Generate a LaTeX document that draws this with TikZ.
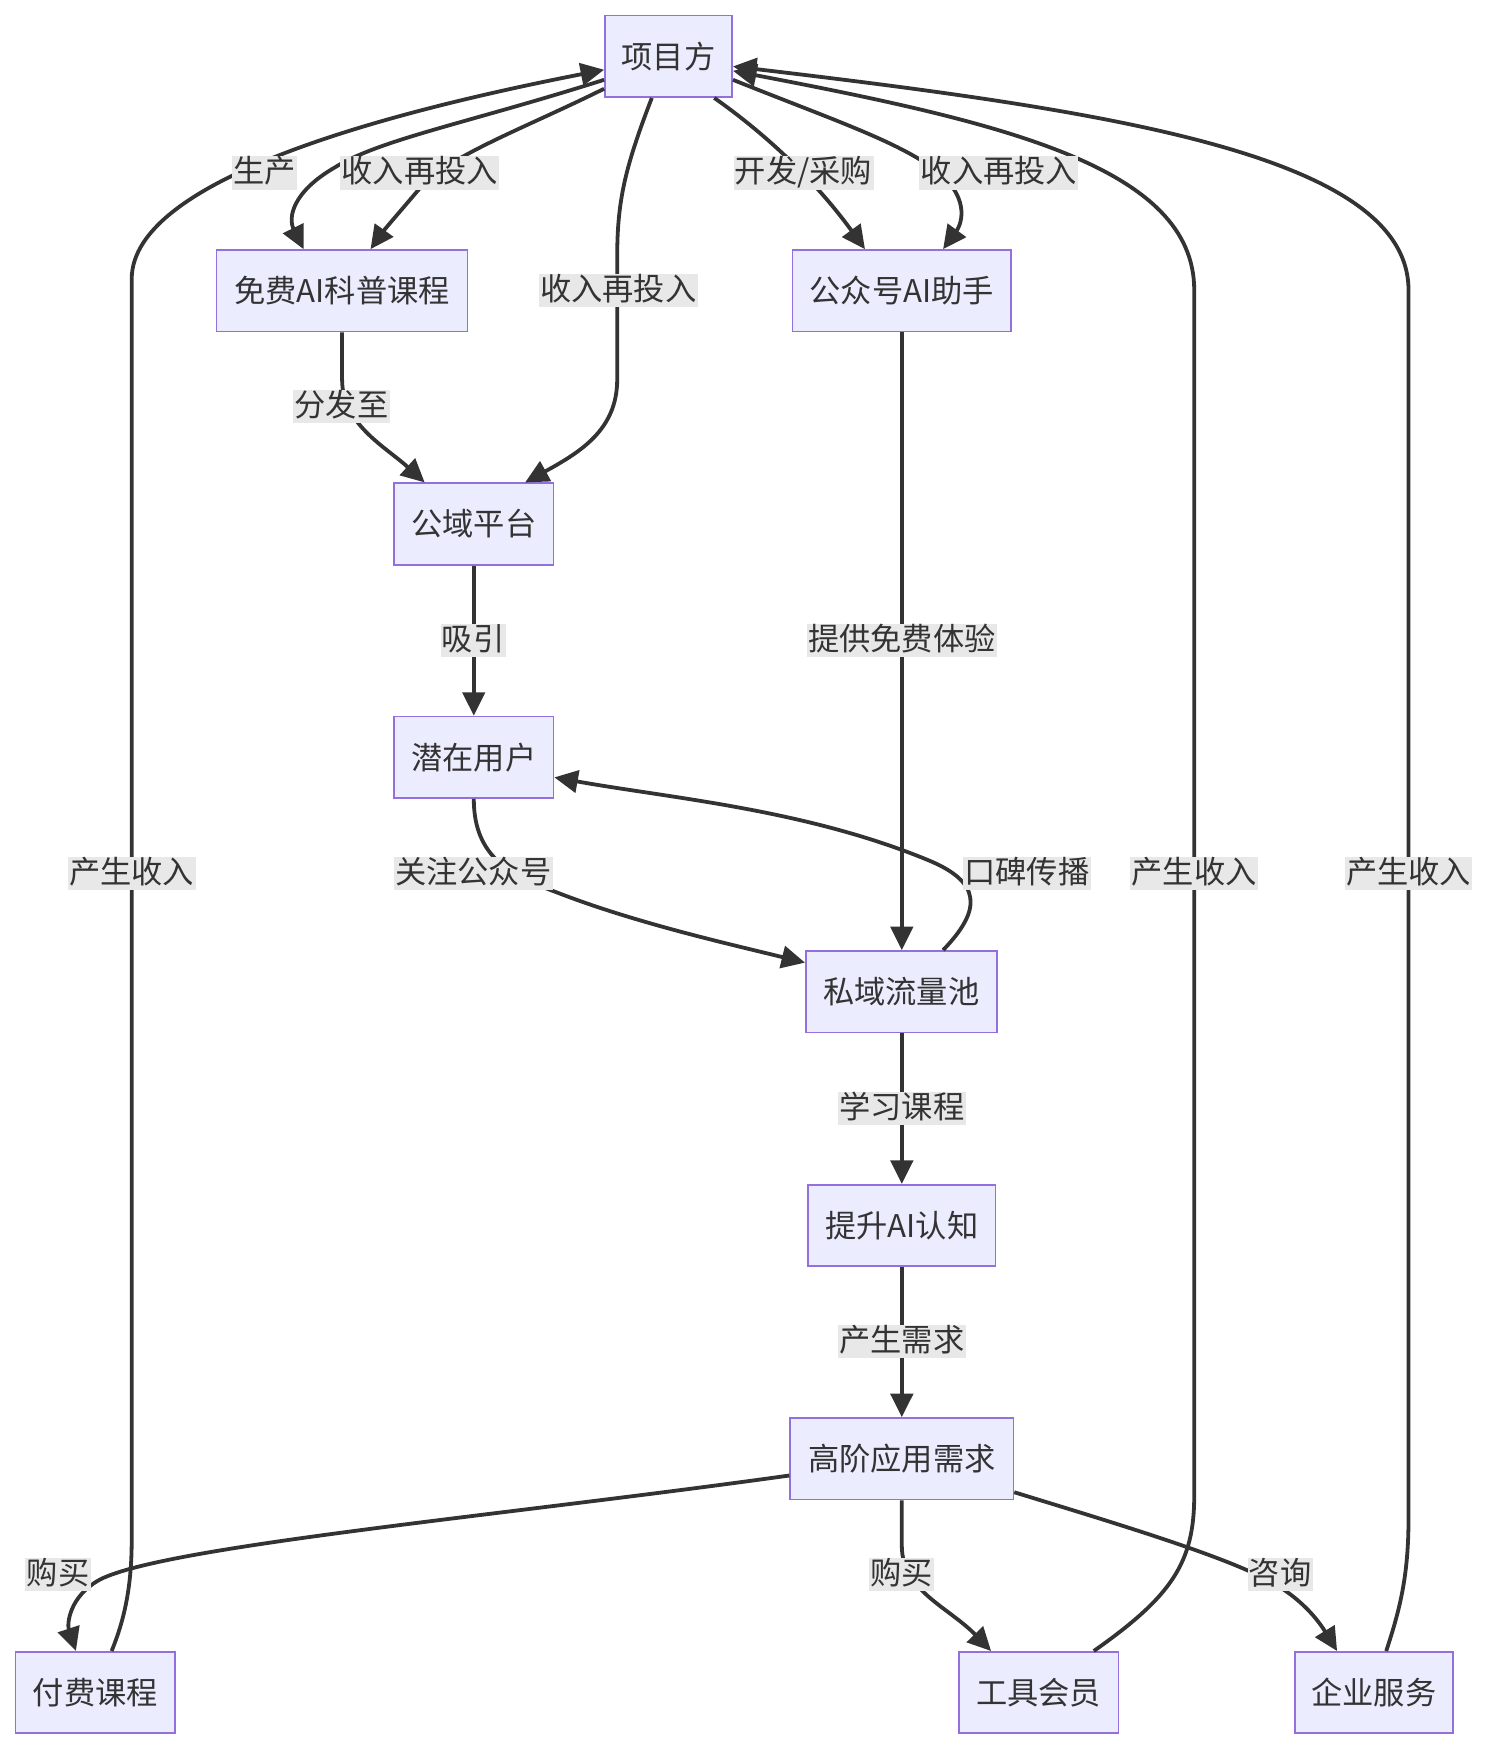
\documentclass[tikz,border=0pt]{standalone}
\usepackage{fontspec}
\setmainfont{Noto Sans CJK SC}
\usetikzlibrary{arrows.meta,calc}
\definecolor{nodefill}{HTML}{ECECFF}
\definecolor{nodeline}{HTML}{9370DB}
\definecolor{ink}{HTML}{333333}
\definecolor{lblfill}{HTML}{E8E8E8}
\begin{document}
\begin{tikzpicture}[x=0.5pt,y=-0.5pt,
  box/.style={draw=nodeline,fill=nodefill,line width=0.75pt,minimum height=36.5pt,inner sep=0pt,text=ink,font=\fontsize{14pt}{16pt}\selectfont},
  lbl/.style={fill=lblfill,inner xsep=0.6pt,inner ysep=0pt,text height=11.8pt,text depth=3pt,text=ink,font=\fontsize{14pt}{16pt}\selectfont},
  edge/.style={draw=ink,line width=1.7pt,-{Triangle[length=10.5pt,width=10pt]},line join=round}]
\useasboundingbox[fill=white] (0,0) rectangle (1330,1559);
% nodes
\node[box,minimum width=57pt]   (P) at (599,50.5)    {项目方};
\node[box,minimum width=112.5pt](B) at (306.5,260.5) {免费AI科普课程};
\node[box,minimum width=98pt]   (C) at (808,260.5)   {公众号AI助手};
\node[box,minimum width=71.5pt] (D) at (424.5,469.5) {公域平台};
\node[box,minimum width=71.5pt] (E) at (424.5,678.5) {潜在用户};
\node[box,minimum width=85.5pt] (F) at (807.5,888.5) {私域流量池};
\node[box,minimum width=84pt]   (G) at (808,1098)    {提升AI认知};
\node[box,minimum width=100pt]  (H) at (808,1307)    {高阶应用需求};
\node[box,minimum width=71.5pt] (I) at (85.5,1516.5) {付费课程};
\node[box,minimum width=71.5pt] (J) at (930.5,1516.5){工具会员};
\node[box,minimum width=71pt]   (K) at (1231,1516.5) {企业服务};
% edges
\draw[edge] ($(I.north)+(14.5,0)$) .. controls (112,1450) and (118,1420) .. (118,1380) -- (118,250) .. controls (118,160) and (350,100) .. ($(P.west)+(0,12)$);
\draw[edge] ($(P.west)+(0,21)$) .. controls (420,110) and (340,125) .. (300,150) .. controls (262,172) and (258,195) .. ($(B.north)+(-34.5,0)$);
\draw[edge] ($(P.west)+(0,29)$) .. controls (470,115) and (400,140) .. (375,170) .. controls (358,190) and (345,205) .. ($(B.north)+(25.5,0)$);
\draw[edge] ($(P.south)+(41,0)$) .. controls (700,130) and (740,175) .. ($(C.north)+(-33,0)$);
\draw[edge] ($(P.east)+(0,21)$) .. controls (740,105) and (800,125) .. (835,150) .. controls (870,175) and (862,200) .. ($(C.north)+(37,0)$);
\draw[edge] ($(J.north)+(49.5,0)$) .. controls (1050,1430) and (1070,1400) .. (1070,1340) -- (1070,260) .. controls (1070,150) and (900,110) .. ($(P.east)+(0,13)$);
\draw[edge] ($(K.north)+(11,0)$) .. controls (1255,1440) and (1262,1410) .. (1262,1360) -- (1262,260) .. controls (1262,140) and (1000,100) .. ($(P.east)+(0,9)$);
\draw[edge] ($(P.south)+(-15,0)$) .. controls (560,150) and (553,180) .. (553,230) -- (553,340) .. controls (553,385) and (520,405) .. ($(D.north)+(46,0)$);
\draw[edge] (B.south) -- (306.5,340) .. controls (306.5,380) and (345,400) .. ($(D.north)+(-44,0)$);
\draw[edge] (D.south) -- (E.north);
\draw[edge] (E.south) .. controls (424.5,770) and (460,785) .. (500,800) .. controls (570,827) and (650,845) .. ($(F.west)+(0,-26)$);
\draw[edge] (C.south) -- (C.south |- F.north);
\draw[edge] ($(F.north)+(37.5,0)$) .. controls (880,815) and (880,790) .. (830,770) .. controls (720,725) and (600,715) .. ($(E.east)+(0,18)$);
\draw[edge] (G.north |- F.south) -- (G.north);
\draw[edge] (G.south) -- (H.north);
\draw[edge] ($(H.west)+(0,15)$) .. controls (450,1358) and (150,1385) .. (90,1415) .. controls (62,1430) and (60,1455) .. ($(I.north)+(-17.5,0)$);
\draw[edge] (H.south) -- (808,1385) .. controls (808,1425) and (850,1440) .. ($(J.north)+(-42.5,0)$);
\draw[edge] ($(H.east)+(0,30)$) .. controls (1000,1365) and (1100,1395) .. (1140,1418) .. controls (1165,1432) and (1180,1450) .. ($(K.north)+(-33,0)$);
% labels
\node[lbl] (l1)  at (237,155)  {生产};
\node[lbl] (l2)  at (376,155)  {收入再投入};
\node[lbl] (l3)  at (554,260)  {收入再投入};
\node[lbl] (l4)  at (720,155)  {开发/采购};
\node[lbl] (l5)  at (895,155)  {收入再投入};
\node[lbl] (l6)  at (306,364)  {分发至};
\node[lbl] (l7)  at (424,574)  {吸引};
\node[lbl] (l8)  at (808,574)  {提供免费体验};
\node[lbl] (l9)  at (118,783)  {产生收入};
\node[lbl] (l10) at (424,783)  {关注公众号};
\node[lbl] (l11) at (920,783)  {口碑传播};
\node[lbl] (l12) at (1070,783) {产生收入};
\node[lbl] (l13) at (1262,783) {产生收入};
\node[lbl] (l14) at (808,993)  {学习课程};
\node[lbl] (l15) at (808,1202) {产生需求};
\node[lbl] (l16) at (52,1411)  {购买};
\node[lbl] (l17) at (808,1411) {购买};
\node[lbl] (l18) at (1147,1411){咨询};
\end{tikzpicture}
\end{document}
